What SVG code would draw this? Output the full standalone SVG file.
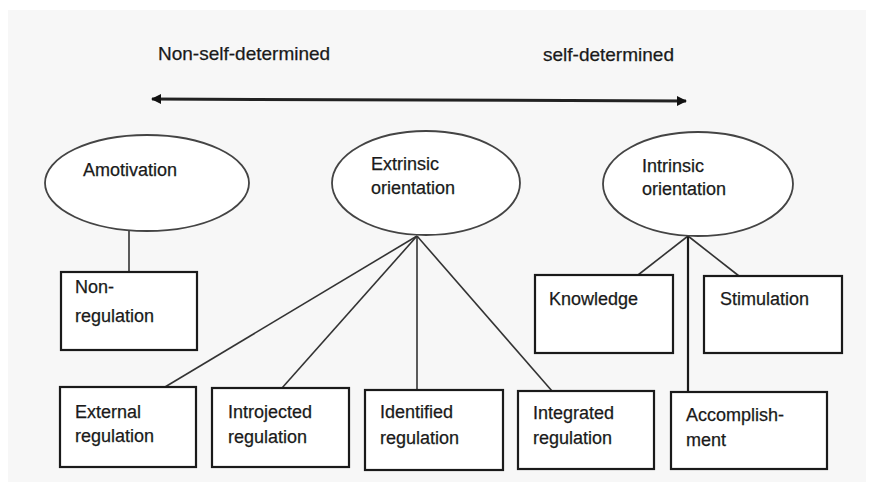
<svg xmlns="http://www.w3.org/2000/svg" width="870" height="487" viewBox="0 0 870 487">
<defs>
<style>
.t{font-family:"Liberation Sans",Arial,sans-serif;font-size:18px;fill:#1a1a1a;stroke:#1a1a1a;stroke-width:0.25}
.h{font-family:"Liberation Sans",Arial,sans-serif;font-size:19px;fill:#1a1a1a;stroke:#1a1a1a;stroke-width:0.25}
.e{fill:#ffffff;stroke:#444;stroke-width:1.8}
.b{fill:#ffffff;stroke:#1a1a1a;stroke-width:2.2}
.c{fill:none;stroke:#333;stroke-width:1.6}
</style>
<marker id="ah" viewBox="0 0 10 10" refX="9" refY="5" markerWidth="3.5" markerHeight="4" orient="auto-start-reverse" markerUnits="strokeWidth">
<path d="M0,0 L10,5 L0,10 z" fill="#111"/>
</marker>
</defs>
<rect width="870" height="487" fill="#ffffff"/>
<rect x="8" y="10" width="858" height="472" fill="#f7f7f7"/>
<text class="h" x="158" y="60">Non-self-determined</text>
<text class="h" x="543" y="61">self-determined</text>
<g id="connectors">
<line x1="152" y1="99" x2="686" y2="101" stroke="#222" stroke-width="3" marker-start="url(#ah)" marker-end="url(#ah)"/>
<line class="c" x1="129" y1="231" x2="129" y2="272" stroke="#888"/>
<line class="c" x1="417" y1="236" x2="165" y2="387"/>
<line class="c" x1="417" y1="236" x2="282" y2="388"/>
<line class="c" x1="417" y1="236" x2="417" y2="390"/>
<line class="c" x1="417" y1="236" x2="552" y2="391"/>
<line class="c" x1="688" y1="236" x2="638" y2="275"/>
<line class="c" x1="688" y1="236" x2="739" y2="276"/>
<line x1="688" y1="236" x2="688" y2="392" stroke="#1a1a1a" stroke-width="2.2"/>
</g>
<g id="amotivation"><ellipse class="e" cx="147" cy="183" rx="102" ry="48"/><text class="t" x="83" y="176">Amotivation</text></g>
<g id="extrinsic"><ellipse class="e" cx="426" cy="183" rx="94" ry="52"/><text class="t" x="371" y="170">Extrinsic</text><text class="t" x="371" y="194">orientation</text></g>
<g id="intrinsic"><ellipse class="e" cx="698" cy="184" rx="95" ry="52"/><text class="t" x="642" y="172">Intrinsic</text><text class="t" x="642" y="195">orientation</text></g>
<g id="nonregulation"><rect class="b" x="61" y="272" width="136" height="78"/><text class="t" x="75" y="293">Non-</text><text class="t" x="75" y="322">regulation</text></g>
<g id="knowledge"><rect class="b" x="535" y="275" width="138" height="78"/><text class="t" x="549" y="305">Knowledge</text></g>
<g id="stimulation"><rect class="b" x="704" y="276" width="138" height="77"/><text class="t" x="720" y="305">Stimulation</text></g>
<g id="external"><rect class="b" x="60" y="387" width="136" height="80"/><text class="t" x="75" y="418">External</text><text class="t" x="75" y="442">regulation</text></g>
<g id="introjected"><rect class="b" x="212" y="388" width="137" height="79"/><text class="t" x="228" y="418">Introjected</text><text class="t" x="228" y="443">regulation</text></g>
<g id="identified"><rect class="b" x="365" y="390" width="138" height="80"/><text class="t" x="380" y="418">Identified</text><text class="t" x="380" y="444">regulation</text></g>
<g id="integrated"><rect class="b" x="518" y="391" width="136" height="78"/><text class="t" x="533" y="419">Integrated</text><text class="t" x="533" y="444">regulation</text></g>
<g id="accomplishment"><rect class="b" x="671" y="392" width="156" height="77"/><text class="t" x="686" y="421">Accomplish-</text><text class="t" x="686" y="446">ment</text></g>
</svg>
